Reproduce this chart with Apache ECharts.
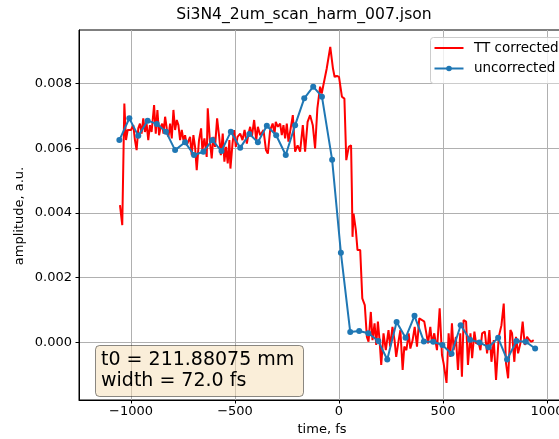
<!DOCTYPE html>
<html>
<head>
<meta charset="utf-8">
<script src="https://cdn.jsdelivr.net/npm/echarts@6/dist/echarts.min.js"></script>
<style>
  html, body { margin: 0; padding: 0; background: #fff; }
  #chart { width: 559px; height: 439px; }
</style>
</head>
<body>
<div id="chart"></div>
<script>
// Time-tool corrected trace: delay (fs) and amplitude (a.u.)
const ttTime = [
  -1053, -1042, -1032, -1024, -1016, -1008, -1000, -989, -981, -973,
  -965, -957, -949, -941, -933, -925, -917, -909, -901, -889,
  -881, -873, -865, -857, -850, -844, -836, -828, -820, -812,
  -804, -796, -788, -780, -772, -764, -756, -748, -740, -732,
  -724, -716, -708, -700, -692, -684, -673, -663, -657, -647,
  -636, -631, -621, -612, -604, -596, -586, -576, -568, -559,
  -551, -543, -535, -527, -522, -512, -504, -496, -488, -475,
  -464, -454, -443, -435, -427, -419, -408, -398, -390, -379,
  -371, -363, -351, -342, -331, -319, -310, -304, -294, -283,
  -275, -267, -259, -251, -243, -235, -222, -211, -199, -187,
  -174, -163, -151, -139, -126, -115, -104, -91, -83, -75,
  -59, -42, -29, -21, -10, 0, 14, 26, 35, 47,
  58, 62, 65, 70, 81, 89, 102, 112, 118, 124,
  134, 142, 153, 161, 171, 179, 187, 195, 203, 214,
  225, 238, 246, 257, 267, 275, 287, 295, 306, 314,
  324, 335, 343, 354, 364, 375, 386, 399, 410, 420,
  428, 439, 447, 458, 471, 484, 495, 503, 517, 527,
  535, 543, 551, 562, 572, 583, 591, 599, 611, 620,
  632, 640, 651, 659, 672, 680, 688, 701, 712, 723,
  733, 744, 755, 768, 781, 792, 803, 813, 824, 832,
  843, 851, 861, 872, 883, 893, 904, 915, 925, 936
];
const ttAmp = [
  0.00424, 0.00362, 0.00738, 0.00625, 0.00656, 0.00650, 0.00656, 0.00671, 0.00625, 0.00594,
  0.00661, 0.00676, 0.00645, 0.00692, 0.00650, 0.00676, 0.00625, 0.00671, 0.00650, 0.00733,
  0.00645, 0.00718, 0.00640, 0.00666, 0.00676, 0.00645, 0.00697, 0.00661, 0.00635, 0.00676,
  0.00630, 0.00718, 0.00656, 0.00687, 0.00671, 0.00625, 0.00656, 0.00625, 0.00640, 0.00609,
  0.00604, 0.00635, 0.00578, 0.00640, 0.00604, 0.00532, 0.00625, 0.00661, 0.00594, 0.00630,
  0.00573, 0.00723, 0.00625, 0.00568, 0.00635, 0.00604, 0.00692, 0.00635, 0.00578, 0.00645,
  0.00558, 0.00604, 0.00553, 0.00625, 0.00537, 0.00614, 0.00656, 0.00604, 0.00635, 0.00645,
  0.00625, 0.00656, 0.00614, 0.00645, 0.00666, 0.00635, 0.00687, 0.00625, 0.00666, 0.00640,
  0.00635, 0.00656, 0.00594, 0.00583, 0.00656, 0.00676, 0.00645, 0.00681, 0.00666, 0.00676,
  0.00640, 0.00671, 0.00630, 0.00676, 0.00620, 0.00651, 0.00702, 0.00589, 0.00609, 0.00589,
  0.00671, 0.00589, 0.00681, 0.00702, 0.00671, 0.00599, 0.00723, 0.00790, 0.00769, 0.00795,
  0.00846, 0.00913, 0.00846, 0.00820, 0.00823, 0.00820, 0.00759, 0.00753, 0.00563, 0.00604,
  0.00609, 0.00465, 0.00326, 0.00398, 0.00347, 0.00285, 0.00285, 0.00136, 0.00141, 0.00115,
  0.00017, 0.00002, 0.00094, 0.00007, 0.00059, -0.00008, 0.00064, 0.00007, -0.00070, 0.00028,
  -0.00024, 0.00038, -0.00013, 0.00048, 0.00007, -0.00045, 0.00007, 0.00038, -0.00085, -0.00013,
  -0.00024, 0.00028, -0.00019, 0.00007, 0.00048, -0.00013, 0.00074, 0.00069, 0.00064, 0.00028,
  -0.00003, 0.00048, -0.00003, 0.00028, -0.00024, 0.00105, -0.00039, -0.00065, -0.00125, 0.00028,
  -0.00045, 0.00059, -0.00024, 0.00017, -0.00085, 0.00028, -0.00106, 0.00069, 0.00064, -0.00070,
  0.00028, -0.00049, 0.00033, -0.00003, -0.00003, -0.00024, 0.00028, 0.00033, -0.00034, 0.00038,
  -0.00060, 0.00007, -0.00116, 0.00017, 0.00053, 0.00120, -0.00065, -0.00111, 0.00038, 0.00028,
  -0.00060, 0.00017, -0.00034, -0.00003, 0.00064, -0.00008, 0.00017, 0.00007, 0.00002, 0.00007
];

// Raw (uncorrected) scan: one point per stage step
const rawTime = [
  -1056, -1008, -965, -920, -876, -832, -788, -740, -697, -652,
  -609, -565, -520, -475, -431, -390, -347, -302, -256, -211,
  -167, -124, -82, -33, 9, 54, 97, 141, 189, 232,
  277, 320, 363, 408, 453, 497, 541, 585, 630, 675,
  719, 765, 808, 853, 898, 943
];
const rawAmp = [
  0.00625, 0.00692, 0.00638, 0.00685, 0.00675, 0.00651, 0.00594, 0.00618, 0.00579, 0.00589,
  0.00625, 0.00591, 0.00651, 0.00601, 0.00644, 0.00618, 0.00669, 0.00640, 0.00579, 0.00671,
  0.00754, 0.00790, 0.00759, 0.00564, 0.00277, 0.00032, 0.00035, 0.00028, 0.00004, -0.00053,
  0.00063, 0.00014, 0.00082, 0.00003, 0.00002, -0.00008, -0.00035, 0.00053, 0.00008, 0.00000,
  -0.00015, 0.00014, -0.00053, 0.00004, 0.00002, -0.00019
];

const xTicks = [-1000, -500, 0, 500, 1000];
const yTicks = [0, 0.002, 0.004, 0.006, 0.008];

const titleText = 'Si3N4_2um_scan_harm_007.json';
const xName = 'time, fs';
const yName = 'amplitude, a.u.';
const fitLines = ['t0 = 211.88075 mm', 'width = 72.0 fs'];
const seriesNames = ['TT corrected', 'uncorrected'];
const seriesColors = ['#ff0000', '#1f77b4'];

const FONT = '"DejaVu Sans", "Liberation Sans", sans-serif';

const ttData = ttTime.map((t, i) => [t, ttAmp[i]]);
const rawData = rawTime.map((t, i) => [t, rawAmp[i]]);

const chart = echarts.init(document.getElementById('chart'), null, { renderer: 'canvas' });

const axisCommon = {
  type: 'value',
  axisLine: { show: true, onZero: false, lineStyle: { color: '#000', width: 1 } },
  axisTick: { show: true, inside: false, length: 3.5, lineStyle: { color: '#000', width: 1 } },
  splitLine: { show: true, lineStyle: { color: '#b0b0b0', width: 1 } },
  axisLabel: { color: '#000', fontFamily: FONT, fontSize: 13 }
};

// Legend drawn as a small framed box in the upper right of the plot
const LX = 430.5, LY = 37.5;
const legendGraphics = [
  {
    type: 'rect', z: 100,
    shape: { x: LX, y: LY, width: 150, height: 46, r: 3 },
    style: { fill: 'rgba(255,255,255,0.8)', stroke: '#cccccc', lineWidth: 1 }
  },
  {
    type: 'line', z: 101,
    shape: { x1: LX + 4, y1: LY + 10.5, x2: LX + 33, y2: LY + 10.5 },
    style: { stroke: seriesColors[0], lineWidth: 2 }
  },
  {
    type: 'text', z: 101, x: LX + 43.5, y: LY + 10.5,
    style: { text: seriesNames[0], font: '13.5px ' + FONT, fill: '#000', align: 'left', verticalAlign: 'middle' }
  },
  {
    type: 'line', z: 101,
    shape: { x1: LX + 4, y1: LY + 31, x2: LX + 33, y2: LY + 31 },
    style: { stroke: seriesColors[1], lineWidth: 2 }
  },
  {
    type: 'circle', z: 102,
    shape: { cx: LX + 18.5, cy: LY + 31, r: 2.8 },
    style: { fill: seriesColors[1] }
  },
  {
    type: 'text', z: 101, x: LX + 43.5, y: LY + 31,
    style: { text: seriesNames[1], font: '13.5px ' + FONT, fill: '#000', align: 'left', verticalAlign: 'middle' }
  }
];

chart.setOption({
  animation: false,
  backgroundColor: '#fff',
  grid: {
    left: 79, top: 30, width: 520, height: 370,
    containLabel: false,
    outerBoundsMode: 'none',
    show: true, borderColor: '#000', borderWidth: 1, backgroundColor: 'transparent'
  },
  xAxis: Object.assign({}, axisCommon, {
    min: -1250, max: 1250,
    axisTick: Object.assign({}, axisCommon.axisTick, { customValues: xTicks }),
    axisLabel: Object.assign({}, axisCommon.axisLabel, {
      customValues: xTicks, margin: 5,
      formatter: v => (v < 0 ? '\u2212' + Math.abs(v) : String(v))
    })
  }),
  yAxis: Object.assign({}, axisCommon, {
    min: -0.00178, max: 0.00965,
    axisTick: Object.assign({}, axisCommon.axisTick, { customValues: yTicks }),
    axisLabel: Object.assign({}, axisCommon.axisLabel, {
      customValues: yTicks, margin: 7,
      formatter: v => v.toFixed(3)
    })
  }),
  series: [
    {
      name: seriesNames[0], type: 'line', data: ttData,
      showSymbol: false, symbol: 'none',
      lineStyle: { color: seriesColors[0], width: 2 },
      itemStyle: { color: seriesColors[0] },
      z: 2
    },
    {
      name: seriesNames[1], type: 'line', data: rawData,
      symbol: 'circle', symbolSize: 6, showSymbol: true,
      lineStyle: { color: seriesColors[1], width: 2 },
      itemStyle: { color: seriesColors[1] },
      z: 3
    }
  ],
  graphic: [
    {
      type: 'text', x: 304, y: 15,
      style: { text: titleText, font: '15.6px ' + FONT, fill: '#000', align: 'center', verticalAlign: 'middle' }
    },
    {
      type: 'text', x: 322, y: 430,
      style: { text: xName, font: '13px ' + FONT, fill: '#000', align: 'center', verticalAlign: 'middle' }
    },
    {
      type: 'text', x: 20, y: 216, rotation: Math.PI / 2,
      style: { text: yName, font: '13px ' + FONT, fill: '#000', align: 'center', verticalAlign: 'middle' }
    },
    {
      type: 'rect', z: 100,
      shape: { x: 95.5, y: 345.5, width: 208, height: 51, r: 4 },
      style: { fill: 'rgba(245,222,179,0.5)', stroke: 'rgba(0,0,0,0.45)', lineWidth: 1 }
    },
    {
      type: 'text', z: 101, x: 101, y: 360,
      style: { text: fitLines[0], font: '19px ' + FONT, fill: '#000', align: 'left', verticalAlign: 'middle' }
    },
    {
      type: 'text', z: 101, x: 101, y: 381,
      style: { text: fitLines[1], font: '19px ' + FONT, fill: '#000', align: 'left', verticalAlign: 'middle' }
    }
  ].concat(legendGraphics)
});
</script>
</body>
</html>
